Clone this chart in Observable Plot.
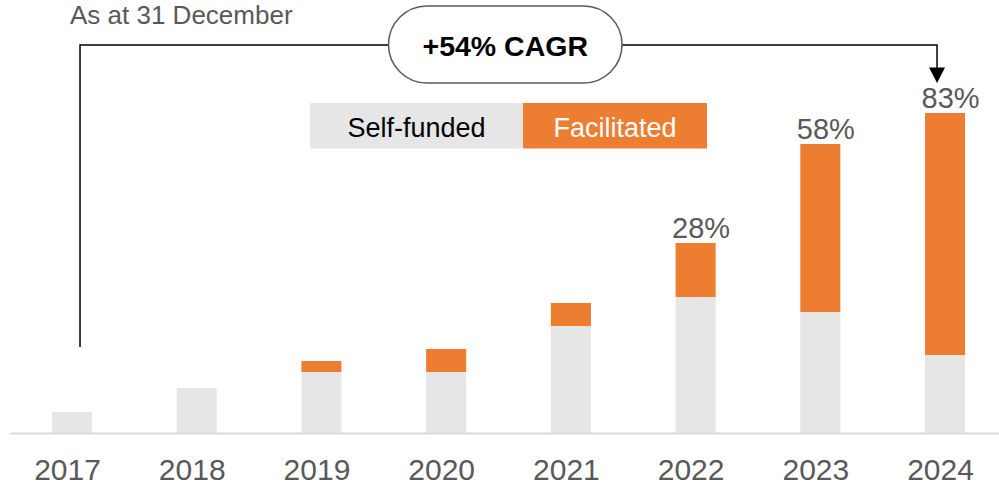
<!DOCTYPE html>
<html><head><meta charset="utf-8">
<script src="https://cdn.jsdelivr.net/npm/d3@7"></script>
<script src="https://cdn.jsdelivr.net/npm/@observablehq/plot@0.6"></script>
<style>body{margin:0;background:#fff}</style>
</head><body><div id="chart"></div>
<script>
const years = ["2017","2018","2019","2020","2021","2022","2023","2024"];
const selfFunded = [21, 45, 61, 61, 107, 136, 121, 78];
const facilitated = [0, 0, 11, 23, 23, 54, 168, 242];
const shareLabels = ["", "", "", "", "", "28%", "58%", "83%"];
const series = ["Self-funded", "Facilitated"];
const colors = ["#E6E6E6", "#ED7D31"];
const subtitle = "As at 31 December";
const cagrLabel = "+54% CAGR";

const rows = [];
years.forEach((yr, i) => {
  rows.push({year: yr, type: series[0], value: selfFunded[i]});
  rows.push({year: yr, type: series[1], value: facilitated[i]});
});
const totals = years.map((yr, i) => ({year: yr, total: selfFunded[i] + facilitated[i], label: shareLabels[i]})).filter(d => d.label);

const FONT = "'Liberation Sans', Arial, Helvetica, sans-serif";
const plot = Plot.plot({
  width: 999, height: 486,
  marginLeft: 10, marginRight: 0, marginTop: 33, marginBottom: 53,
  style: {fontFamily: FONT, background: "#fff", overflow: "visible"},
  x: {domain: years, paddingInner: 0.679, paddingOuter: 0.3045, align: 0.553, round: false, label: null},
  y: {domain: [0, 400], axis: null},
  color: {domain: series, range: colors},
  marks: [
    Plot.barY(rows, {x: "year", y: "value", fill: "type"}),
    Plot.ruleY([0], {stroke: "#D9D9D9", strokeWidth: 2}),
    Plot.axisX({tickSize: 0, tickPadding: 25, fontSize: 30, color: "#595959", dx: -5}),
    Plot.text(totals, {x: "year", y: "total", text: "label", lineAnchor: "bottom", dy: -6, dx: 5, fontSize: 29, fill: "#595959"})
  ]
});
document.getElementById("chart").appendChild(plot);

const svg = d3.select(plot);
const xs = plot.scale("x"), ys = plot.scale("y");
const cx = d => xs.apply(d) + xs.bandwidth / 2;
const g = svg.append("g").attr("text-anchor", "start");

// subtitle
g.append("text").attr("x", 70).attr("y", 23.5).attr("font-size", 26).attr("fill", "#595959")
  .attr("text-anchor", "start").attr("font-family", FONT).text(subtitle);

// connector lines
const lx = cx(years[0]) + 8, rx = cx(years[years.length - 1]) - 8;
const topY = ys.apply(388), leftBottom = ys.apply(86), tipY = ys.apply(350);
const boxL = 388.5, boxR = 622, boxT = 6, boxB = 83;
g.append("path").attr("d", `M${lx},${leftBottom}V${topY}H${boxL}`).attr("fill", "none").attr("stroke", "#000").attr("stroke-width", 1.5);
g.append("path").attr("d", `M${boxR},${topY}H${rx}V${tipY - 14}`).attr("fill", "none").attr("stroke", "#000").attr("stroke-width", 1.5);
g.append("path").attr("d", `M${rx - 8},${tipY - 15.5}L${rx + 8},${tipY - 15.5}L${rx},${tipY}Z`).attr("fill", "#000");

// CAGR box
g.append("rect").attr("x", boxL).attr("y", boxT).attr("width", boxR - boxL).attr("height", boxB - boxT)
  .attr("rx", (boxB - boxT) / 2).attr("fill", "#fff").attr("stroke", "#595959").attr("stroke-width", 1.5);
g.append("text").attr("x", (boxL + boxR) / 2).attr("y", 56).attr("text-anchor", "middle")
  .attr("font-size", 28.5).attr("font-weight", "bold").attr("fill", "#000").attr("font-family", FONT).text(cagrLabel);

// legend
const legend = [{x: 310, w: 213, fill: colors[0], text: series[0], tc: "#000"}, {x: 523, w: 184, fill: colors[1], text: series[1], tc: "#fff"}];
legend.forEach(l => {
  g.append("rect").attr("x", l.x).attr("y", 103).attr("width", l.w).attr("height", 45.5).attr("fill", l.fill);
  g.append("text").attr("x", l.x + l.w / 2).attr("y", 136.5).attr("text-anchor", "middle").attr("font-size", 27)
    .attr("fill", l.tc).attr("font-family", FONT).text(l.text);
});
</script>
</body></html>
